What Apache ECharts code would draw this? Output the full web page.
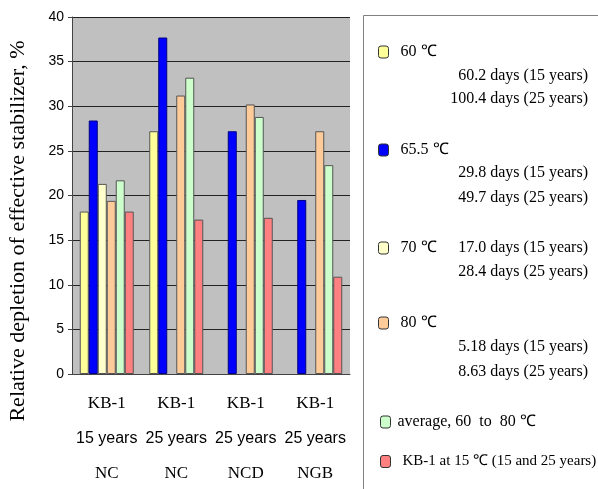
<!DOCTYPE html>
<html>
<head>
<meta charset="utf-8">
<script src="https://cdn.jsdelivr.net/npm/echarts@6.0.0/dist/echarts.min.js"></script>
<style>
  html, body { margin: 0; padding: 0; background: #fff; }
  #chart { width: 598px; height: 489px; }
</style>
</head>
<body>
<div id="chart"></div>
<script>
// categories (three label rows under each group)
var catRow1 = ['KB-1', 'KB-1', 'KB-1', 'KB-1'];
var catRow2 = ['15 years', '25 years', '25 years', '25 years'];
var catRow3 = ['NC', 'NC', 'NCD', 'NGB'];

var seriesNames = ['60 \u2103', '65.5 \u2103', '70 \u2103', '80 \u2103', 'average, 60  to  80 \u2103', 'KB-1 at 15 \u2103 (15 and 25 years)'];
var val60 = [18.2, 27.2, null, null];
var val655 = [28.4, 37.7, 27.2, 19.5];
var val70 = [21.3, null, null, null];
var val80 = [19.4, 31.2, 30.2, 27.2];
var valAvg = [21.7, 33.2, 28.8, 23.4];
var valKB = [18.2, 17.3, 17.5, 10.9];

// extra legend notes (days of oven ageing)
var notes60 = ['60.2 days (15 years)', '100.4 days (25 years)'];
var notes655 = ['29.8 days (15 years)', '49.7 days (25 years)'];
var notes70 = ['17.0 days (15 years)', '28.4 days (25 years)'];
var notes80 = ['5.18 days (15 years)', '8.63 days (25 years)'];

var colors = ['#ffff99', '#0000ff', '#ffffcc', '#ffcc99', '#ccffcc', '#ff8080'];
var borders = ['#555', '#000080', '#555', '#555', '#555', '#555'];
var values = [val60, val655, val70, val80, valAvg, valKB];

var categories = catRow1.map(function (c, i) {
  return c + '\n' + catRow2[i] + '\n' + catRow3[i];
});

var serif = "'Liberation Serif', 'Times New Roman', serif";
var sans = "'Liberation Sans', Arial, sans-serif";

var series = values.map(function (v, i) {
  return {
    name: seriesNames[i],
    type: 'bar',
    barWidth: 9,
    barGap: '0%',
    data: v,
    itemStyle: { color: colors[i], borderColor: borders[i], borderWidth: 1 }
  };
});

// one legend block per entry, placed like the original box
var legendTops = [44, 142, 240, 315, 414, 454];
var legendLefts = [378, 378, 378, 378, 380, 380];
var legends = seriesNames.map(function (n, i) {
  return {
    data: [n],
    left: legendLefts[i],
    top: legendTops[i],
    padding: 0,
    icon: 'roundRect',
    itemWidth: 10,
    itemHeight: 12,
    selectedMode: false,
    itemStyle: { borderColor: '#333', borderWidth: 1 },
    textStyle: {
      fontFamily: serif, fontSize: i === 5 ? 15 : 16, color: '#000',
      padding: [0, 0, 0, i === 4 ? 2 : 7]
    }
  };
});

function note(text, y) {
  return {
    type: 'text', right: 10, top: y,
    style: { text: text, fill: '#000', font: '16px ' + serif, textAlign: 'right' }
  };
}

var graphics = [
  {
    type: 'rect', shape: { x: 363.5, y: 15.5, width: 250, height: 490 },
    style: { fill: 'none', stroke: '#808080', lineWidth: 1 }
  },
  {
    type: 'text', x: 18, y: 231, rotation: Math.PI / 2,
    style: {
      text: 'Relative depletion of effective stabilizer, %',
      fill: '#000', font: '22px ' + serif, textAlign: 'center', textVerticalAlign: 'middle'
    }
  },
  note(notes60[0], 68), note(notes60[1], 91),
  note(notes655[0], 165), note(notes655[1], 190),
  note(notes70[0], 240), note(notes70[1], 264),
  note(notes80[0], 339), note(notes80[1], 364)
];

var option = {
  backgroundColor: '#fff',
  animation: false,
  grid: { left: 72, right: 248, top: 17, bottom: 115, show: true, backgroundColor: '#c0c0c0', borderColor: '#999', borderWidth: 0 },
  legend: legends,
  graphic: graphics,
  xAxis: {
    type: 'category',
    data: categories,
    axisLine: { lineStyle: { color: '#444', width: 1 } },
    axisTick: { length: 114, interval: 0, lineStyle: { color: '#666', width: 1 } },
    axisLabel: {
      interval: 0,
      margin: 12,
      formatter: function (value) {
        var p = value.split('\n');
        return '{a|' + p[0] + '}\n{b|' + p[1] + '}\n{a|' + p[2] + '}';
      },
      rich: {
        a: { fontFamily: serif, fontSize: 17, color: '#000', lineHeight: 35 },
        b: { fontFamily: sans, fontSize: 16, color: '#000', lineHeight: 35 }
      }
    }
  },
  yAxis: {
    type: 'value',
    min: 0,
    max: 40,
    interval: 5,
    axisLine: { show: true, lineStyle: { color: '#444', width: 1 } },
    axisTick: { show: true, length: 4, lineStyle: { color: '#444' } },
    axisLabel: { fontFamily: sans, fontSize: 14, color: '#000', margin: 8 },
    splitLine: { show: true, lineStyle: { color: '#222', width: 1 } }
  },
  series: series
};

var myChart = echarts.init(document.getElementById('chart'));
myChart.setOption(option);
</script>
</body>
</html>
